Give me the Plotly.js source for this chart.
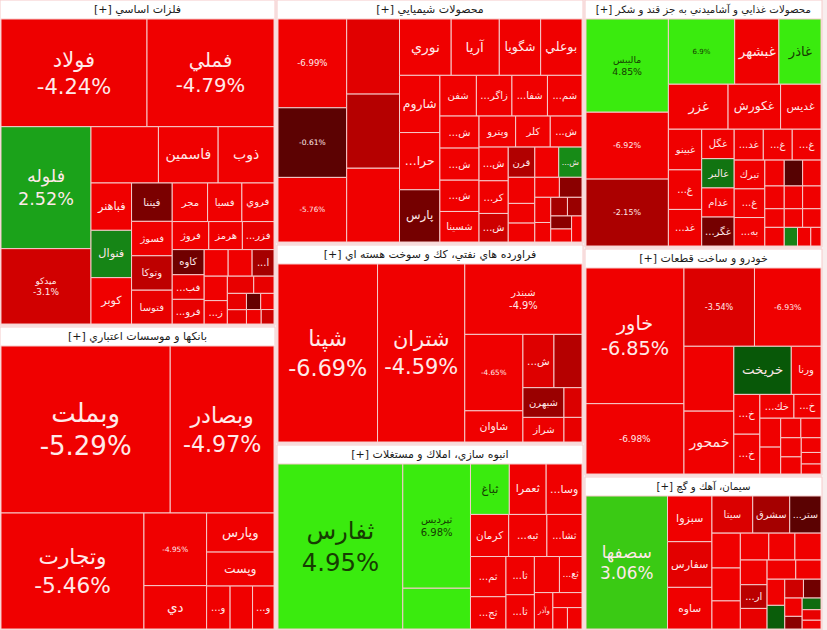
<!DOCTYPE html>
<html>
<head>
<meta charset="utf-8">
<script src="https://cdn.plot.ly/plotly-3.0.1.min.js"></script>
<style>html,body{margin:0;padding:0;background:#f8eeee;}#chart{width:827px;height:630px;}</style>
</head>
<body>
<div id="chart"></div>
<script>
// ---------- DATA ----------
// Sector titles
const sectorMetals = 'فلزات اساسي';
const sectorBanks = 'بانکها و موسسات اعتباري';
const sectorChem = 'محصولات شيميايي';
const sectorPetro = 'فراورده هاي نفتي، كك و سوخت هسته اي';
const sectorConstr = 'انبوه سازي، املاك و مستغلات';
const sectorFood = 'محصولات غذايي و آشاميدني به جز قند و شكر';
const sectorAuto = 'خودرو و ساخت قطعات';
const sectorCement = 'سيمان، آهك و گچ';

// Metals
const metalsNames = ['فولاد','فملي','فلوله','ميدكو','','فاسمين','ذوب','فباهنر','فنوال','كوبر','فيننا','فسوژ','وتوكا','فتوسا','فسيا','مجر','فروي','فروژ','هرمز','كاوه','...فزر','','...ا','','...فب','','','','...فرو','...ز','','','','','',''];
const metalsValues = [15330,13335,10700,6612,3701,3277,3065,1872,1872,1833,1521,1365,1365,1340,1290,1330,1209,999,918,783,864,621,567,621,768,552,442,340,768,528,304,224,208,266,210,180];
const metalsChanges = [-4.24,-4.79,2.52,-3.1,-5,-5,-5,-5,1.6,-5,-1.2,-5,-2.6,-4,-5,-5,-5,-5,-5,-1,-4,-5,-2,-5,-4,-5,-4,-4,-4,-5,-4,-0.8,-5,-4,-5,-3];

// Banks
const banksNames = ['وبملت','وبصادر','وتجارت','','وپارس','وپست','دي','...و','...و',''];
const banksValues = [27720,17000,16263,4464,2584,2244,2666,989,903,946];
const banksChanges = [-5.29,-4.97,-5.46,-4.95,-5,-5,-5,-5,-5,-5];

// Chemicals
const chemNames = ['','','','','','','نوري','آريا','شگويا','بوعلي','شاروم','...حرا','پارس','شفن','...زاگر','...شفا','...شم','...ش','شسينا','وپترو','كلر','...ش','...ش','...ش','قرن','','','...ش','...ش','','','...كر','...ش','','','','','','','','',''];
const chemValues = [6072,3950,4761,3900,4416,3880,2900,2700,2320,2320,2300,2300,2100,1480,1440,1440,1400,1250,1190,1130,1070,1250,1220,980,800,690,720,980,700,520,500,950,830,490,450,400,310,310,270,270,270,270];
const chemChanges = [-6.99,-3.71,-0.61,-2.4,-5.76,-4.8,-5,-5,-5,-5,-5,-5,-1.1,-5,-5,-5,-5,-5,-5,-5,-5,-5,-5,-5,-2.3,-5,-5,-5,1.8,-5,-5,-5,-3,-5,-1.5,-5,-5,-2,-1.8,-1.5,-5,-5];

// Petroleum products
const petroNames = ['شپنا','شتران','شبندر','','...ش','','شبهرن','','شاوان','شراز',''];
const petroValues = [17266,15130,8040,4332,1612,1456,1189,522,1767,984,432];
const petroChanges = [-6.69,-4.59,-4.9,-4.65,-3.6,-2.4,-1.8,-3.5,-4.5,-4.2,-4];

// Construction / real estate
const constrNames = ['ثفارس','ثپرديس','','ثباغ','ثعمرا','...وسا','كرمان','...ثبه','...ثشا','...ثم','...ثا','...ثا','','...ثج','...ثع','وآذر','','',''];
const constrValues = [20496,8375,2747,1950,1850,1800,1600,1600,1470,1420,1080,970,900,1140,810,670,310,435,310];
const constrChanges = [4.95,6.98,4.8,4.9,-5,-5,-5,-5,-5,-5,-5,-5,-5,-5,-5,-5,-5,-5,-5];

// Food
const foodNames = ['ماليبس','','غبشهر','غاذر','غزر','غكورش','غديس','','','...غ','غگل','...غد','...غ','...غ','غبينو','...غد','غالبر','تبرك','غدام','...غگر','...غ','...به','','','','','','','','','','','','',''];
const foodValues = [7268,4092,2728,2600,2540,2236,1720,5214,5214,1248,905,850,845,840,1280,1152,900,835,895,890,830,825,475,450,450,418,396,396,342,324,324,342,234,234,180];
const foodChanges = [4.85,6.9,-5,5,-5,-5,-5,-6.92,-2.15,-5,-5,-5,-5,-5,-5,-5,1.2,-5,-5,-1.1,-5,-5,-5,-0.5,-5,-5,-5,-5,-5,-5,-5,-5,1.5,-5,-5];

// Automobile
const autoNames = ['خاور','','','','','خمحور','خريخت','ورنا','...خ','...خك','...خ','...خ','','','','','','','','',''];
const autoValues = [12825,6650,5325,5025,3120,3024,2668,1380,1000,782,621,1000,580,380,380,540,340,280,380,190,220];
const autoChanges = [-6.85,-6.98,-3.54,-6.93,-5,-5,0.6,-5,-5,-5,-5,-5,-5,-5,-5,-5,-5,-5,-5,-5,-5];

// Cement
const cementNames = ['سصفها','سبزوا','سفارس','ساوه','سيتا','سشرق','...ستر','','','','','','','...ار','','','','','','','','','','','','',''];
const cementValues = [9855,1845,1845,1681,1376,1248,1056,900,696,638,638,600,850,576,440,420,380,725,500,500,320,290,200,180,300,200,150];
const cementChanges = [3.06,-5,-3.8,-5,-3.5,-2,-0.6,-5,-5,-5,-5,-5,-5,-2.5,-5,-5,0.7,-5,-4,-5,-3,-5,-1.5,-4,-1,1,-5];

// ---------- STYLE ----------
const W = 827, H = 630;
const FONT = 'DejaVu Sans, Tahoma, sans-serif';
const colorStops = [
  [-7, [240,0,0]], [-4.3, [240,0,0]], [-3, [206,0,0]], [-2, [165,0,0]],
  [-1, [112,0,0]], [0, [60,4,4]], [0.6, [8,88,8]], [1.5, [22,130,22]],
  [2.5, [26,160,26]], [3.1, [60,205,20]], [4.5, [58,235,14]], [8, [58,235,14]]
];
function colorFor(c) {
  if (c <= colorStops[0][0]) return 'rgb(' + colorStops[0][1].join(',') + ')';
  for (let i = 1; i < colorStops.length; i++) {
    const [v1, c1] = colorStops[i];
    const [v0, c0] = colorStops[i - 1];
    if (c <= v1) {
      const t = (c - v0) / (v1 - v0);
      const rgb = c0.map((a, k) => Math.round(a + (c1[k] - a) * t));
      return 'rgb(' + rgb.join(',') + ')';
    }
  }
  return 'rgb(' + colorStops[colorStops.length - 1][1].join(',') + ')';
}
function dom(x0, x1, y0, y1) {
  return { x: [x0 / W, x1 / W], y: [1 - y1 / H, 1 - y0 / H] };
}
function fmtPct(c) { return String(c) + '%'; }

function makeTrace(sector, names, values, changes, domain) {
  const title = '[+] ' + sector;
  const ids = ['root'], labels = [title], parents = [''], vals = [0];
  const text = [title], colors = ['#ffffff'], sizes = [11], fcolors = ['#1a1a1a'];
  names.forEach((nm, i) => {
    const v = values[i], c = changes[i];
    ids.push('n' + i);
    labels.push(nm || ('#' + (i + 1)));
    parents.push('root');
    vals.push(v);
    const showPct = v >= 4000;
    const parts = [];
    if (nm) parts.push(nm);
    if (showPct) parts.push(fmtPct(c));
    text.push(parts.join('<br>'));
    colors.push(colorFor(c));
    let fs;
    if (showPct) fs = v >= 9000 ? Math.min(26, 0.17 * Math.sqrt(v)) : 0.11 * Math.sqrt(v);
    else fs = Math.min(14, Math.max(10, 0.26 * Math.sqrt(v)));
    sizes.push(fs);
    fcolors.push(c >= 3.5 ? '#163d02' : '#ffe9e9');
  });
  return {
    type: 'treemap',
    ids: ids, labels: labels, parents: parents, values: vals,
    branchvalues: 'remainder',
    text: text, textinfo: 'text', textposition: 'middle center',
    hoverinfo: 'label+text',
    domain: domain,
    sort: true,
    marker: {
      colors: colors,
      line: { color: '#f6caca', width: 1 },
      pad: { t: 19, l: 1, r: 1, b: 1 }
    },
    tiling: { packing: 'squarify', squarifyratio: 1, pad: 0 },
    pathbar: { visible: false },
    textfont: { family: FONT, size: sizes, color: fcolors },
    insidetextfont: { family: FONT, size: sizes, color: fcolors },
    outsidetextfont: { family: FONT, size: 11, color: '#1a1a1a' }
  };
}

const data = [
  makeTrace(sectorMetals, metalsNames, metalsValues, metalsChanges, dom(0, 275, 0, 325)),
  makeTrace(sectorBanks, banksNames, banksValues, banksChanges, dom(0, 275, 327, 630)),
  makeTrace(sectorChem, chemNames, chemValues, chemChanges, dom(277, 583, 0, 243)),
  makeTrace(sectorPetro, petroNames, petroValues, petroChanges, dom(277, 583, 245, 443)),
  makeTrace(sectorConstr, constrNames, constrValues, constrChanges, dom(277, 583, 445, 630)),
  makeTrace(sectorFood, foodNames, foodValues, foodChanges, dom(585, 822, 0, 247)),
  makeTrace(sectorAuto, autoNames, autoValues, autoChanges, dom(585, 822, 249, 475)),
  makeTrace(sectorCement, cementNames, cementValues, cementChanges, dom(585, 822, 477, 630))
];

const layout = {
  width: W, height: H,
  margin: { l: 0, r: 0, t: 0, b: 0 },
  paper_bgcolor: '#f8eeee',
  showlegend: false,
  font: { family: FONT }
};
Plotly.newPlot('chart', data, layout, { displayModeBar: false, staticPlot: true });
</script>
</body>
</html>
